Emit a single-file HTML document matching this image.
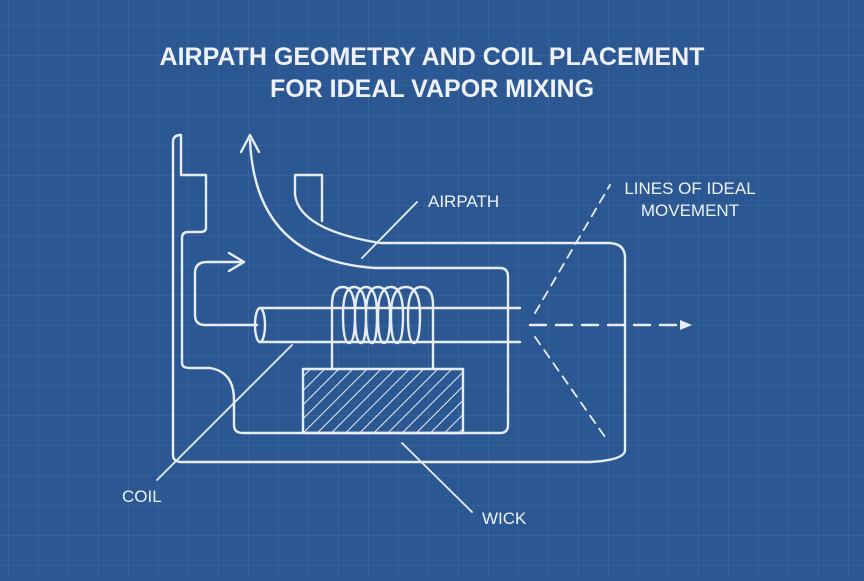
<!DOCTYPE html>
<html><head><meta charset="utf-8"><style>
html,body{margin:0;padding:0}
body{width:864px;height:576px;overflow:hidden;background:#2b5892;}
</style></head><body>
<svg width="864" height="576" viewBox="0 0 864 576" xmlns="http://www.w3.org/2000/svg">
<defs>
<pattern id="g" x="8" y="25" width="30" height="30" patternUnits="userSpaceOnUse">
<path d="M0 0H30M0 0V30" stroke="#5d86bb" stroke-width="1" opacity="0.45" fill="none"/>
</pattern>
<pattern id="h" width="10" height="10" patternUnits="userSpaceOnUse" patternTransform="rotate(45)">
<path d="M0 0V10" stroke="#e6ecf4" stroke-width="2"/>
</pattern>
</defs>
<rect width="864" height="576" fill="#2b5892"/>
<rect width="864" height="576" fill="url(#g)"/>
<g font-family="Liberation Sans, sans-serif" fill="#eef2f8" text-anchor="middle">
<text x="432" y="65" font-size="25" font-weight="bold">AIRPATH GEOMETRY AND COIL PLACEMENT</text>
<text x="432" y="97" font-size="25" font-weight="bold">FOR IDEAL VAPOR MIXING</text>
</g>
<g fill="none" stroke="#e8edf5" stroke-width="2.4" stroke-linecap="round" stroke-linejoin="round">
<path d="M173 455 V142 Q173 135 181 135 V175 H206 V228 Q206 232 200 232 H188 Q182 232 182 238 V363 Q182 368 190 368 H210 Q234 372 234 400 V425 Q234 433 243 433 H500 Q508 433 508 425 V277 Q508 268 500 268 H375 Q255 260 250 140"/>
<path d="M173 455 Q173 462 182 462 H590 Q625 460 625 450 V258 Q625 243 608 243 H380 Q300 230 295 195 V175 H322 V221"/>
<path d="M241 152 L250 135 L259 152"/>
<path d="M257 325 H205 Q195 325 195 315 V273 Q195 262 207 262 H240"/>
<path d="M229 253 L244 262 L229 271"/>
<path d="M260 308 H520 M260 342 H520"/>
<ellipse cx="260" cy="325" rx="5" ry="17"/>
<path d="M332 369 V305 Q332 287 343 287 Q355 287 355 315 Q355 343 349 343 Q343 343 343 315 Q343 287 354 287 Q366 287 366 315 Q366 343 361 343 Q355 343 355 315 Q355 287 366 287 Q377 287 377 315 Q377 343 372 343 Q366 343 366 315 Q366 287 378 287 Q390 287 390 315 Q390 343 384 343 Q378 343 378 315 Q378 287 391 287 Q403 287 403 315 Q403 343 397 343 Q391 343 391 315 Q391 287 406 287 Q420 287 420 315 Q420 343 414 343 Q408 343 408 315 Q408 287 421 287 Q433 287 433 305 V369"/>
<rect x="303" y="369" width="160" height="64" fill="url(#h)"/>
<path d="M362 258 L417 202" stroke-width="1.8"/>
<path d="M292 345 L157 480" stroke-width="1.8"/>
<path d="M402 443 L472 512" stroke-width="1.8"/>
<path d="M530 325 H682" stroke-dasharray="16 10"/>
<path d="M535 313 L610 185" stroke-width="1.8" stroke-dasharray="9 7"/>
<path d="M535 337 L605 437" stroke-width="1.8" stroke-dasharray="9 7"/>
</g>
<path d="M680 320 L692 325 L680 330 Z" fill="#e8edf5"/>
<g font-family="Liberation Sans, sans-serif" fill="#eef2f8" font-size="17">
<text x="428" y="207">AIRPATH</text>
<text x="690" y="194" text-anchor="middle">LINES OF IDEAL</text>
<text x="690" y="216" text-anchor="middle">MOVEMENT</text>
<text x="122" y="502">COIL</text>
<text x="482" y="524">WICK</text>
</g>
</svg>
</body></html>
